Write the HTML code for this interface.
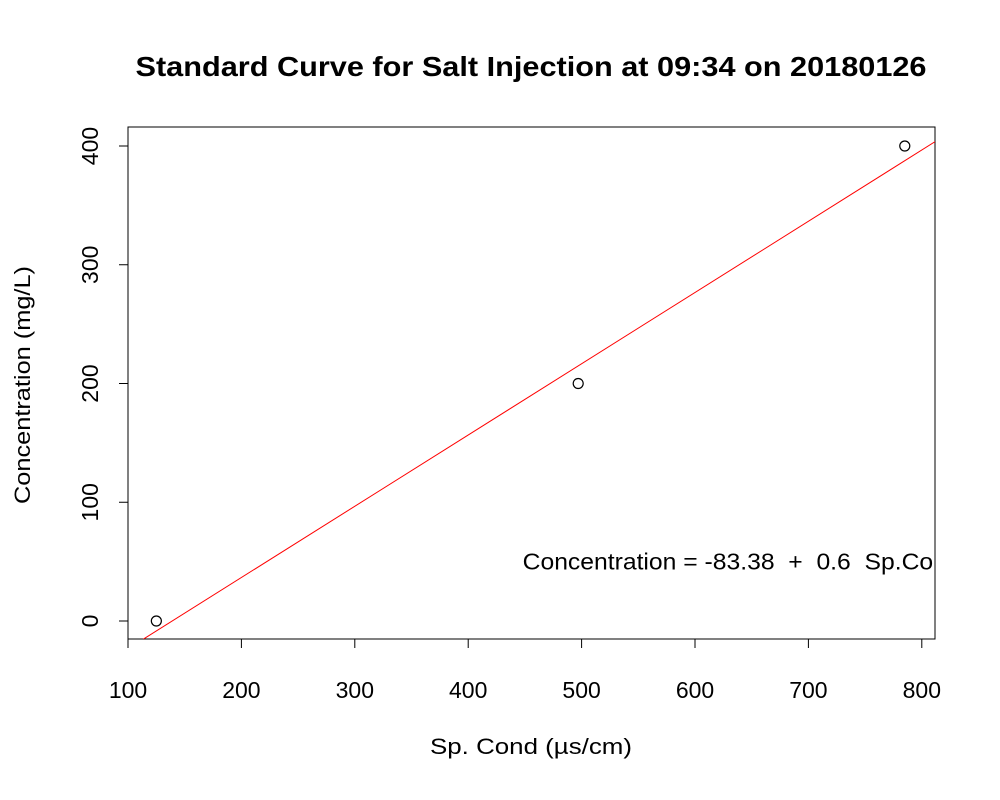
<!DOCTYPE html>
<html><head><meta charset="utf-8"><style>
body{margin:0;background:#fff;}
svg{display:block;font-family:"Liberation Sans",Arial,sans-serif;}
text{white-space:pre;}
</style></head><body>
<svg id="chart" width="1000" height="800" xmlns="http://www.w3.org/2000/svg">
<defs><clipPath id="plotclip"><rect x="128" y="127" width="807" height="512"/></clipPath></defs>
<text x="531" y="76" text-anchor="middle" font-size="28" font-weight="bold" textLength="791" lengthAdjust="spacingAndGlyphs">Standard Curve for Salt Injection at 09:34 on 20180126</text>
<rect x="128" y="127" width="807" height="512" fill="none" stroke="#000" stroke-width="1"/>
<g id="xaxis"></g>
<g id="yaxis"></g>
<text x="531" y="754" text-anchor="middle" font-size="22" textLength="202" lengthAdjust="spacingAndGlyphs">Sp. Cond (µs/cm)</text>
<text transform="translate(30,385) rotate(-90)" text-anchor="middle" font-size="22" textLength="238" lengthAdjust="spacingAndGlyphs">Concentration (mg/L)</text>
<g id="plot" clip-path="url(#plotclip)"></g>
</svg>
<script>
const xTicks=[100,200,300,400,500,600,700,800];
const yTicks=[0,100,200,300,400];
const spCond=[125,497,785];
const conc=[0,200,400];
const intercept=-83.38;
const slope=0.6;
const eqLabel="Concentration = -83.38  +  0.6  Sp.Cond";
const eqPos=[448,50];

const NS="http://www.w3.org/2000/svg";
const sx=v=>128+(v-100)*1.134;
const sy=v=>621-v*1.1875;
function mk(tag,attrs,parent){const e=document.createElementNS(NS,tag);for(const k in attrs)e.setAttribute(k,attrs[k]);parent.appendChild(e);return e;}
const xa=document.getElementById('xaxis'),ya=document.getElementById('yaxis'),pl=document.getElementById('plot');
mk('line',{x1:sx(xTicks[0]),x2:sx(xTicks[xTicks.length-1]),y1:639,y2:639,stroke:'#000'},xa);
xTicks.forEach(t=>{
  const l=mk('line',{x1:sx(t),x2:sx(t),y1:639,y2:648,stroke:'#000'},xa);
  
  
  const tx=mk('text',{x:sx(t),y:698,'text-anchor':'middle','font-size':23},xa);
  tx.textContent=t;
  
  
});
mk('line',{x1:128,x2:128,y1:sy(yTicks[0]),y2:sy(yTicks[yTicks.length-1]),stroke:'#000'},ya);
yTicks.forEach(t=>{
  const l=mk('line',{x1:119,x2:128,y1:sy(t),y2:sy(t),stroke:'#000'},ya);
  
  
  const tx=mk('text',{transform:`translate(98,${sy(t)}) rotate(-90)`,'text-anchor':'middle','font-size':23},ya);
  tx.textContent=t;
  
  
});
const x0=50,x1=900;
const fit=mk('line',{x1:sx(x0),y1:sy(intercept+slope*x0),x2:sx(x1),y2:sy(intercept+slope*x1),stroke:'#ff0000','stroke-width':1},pl);


spCond.forEach((v,i)=>{
  const c=mk('circle',{cx:sx(v),cy:sy(conc[i]),r:5,fill:'none',stroke:'#000','stroke-width':1.2},pl);
  
  
});
const eq=mk('text',{x:sx(eqPos[0]),y:sy(eqPos[1])+8,'font-size':23,textLength:438,lengthAdjust:'spacingAndGlyphs'},pl);
eq.textContent=eqLabel;


</script>
</body></html>
